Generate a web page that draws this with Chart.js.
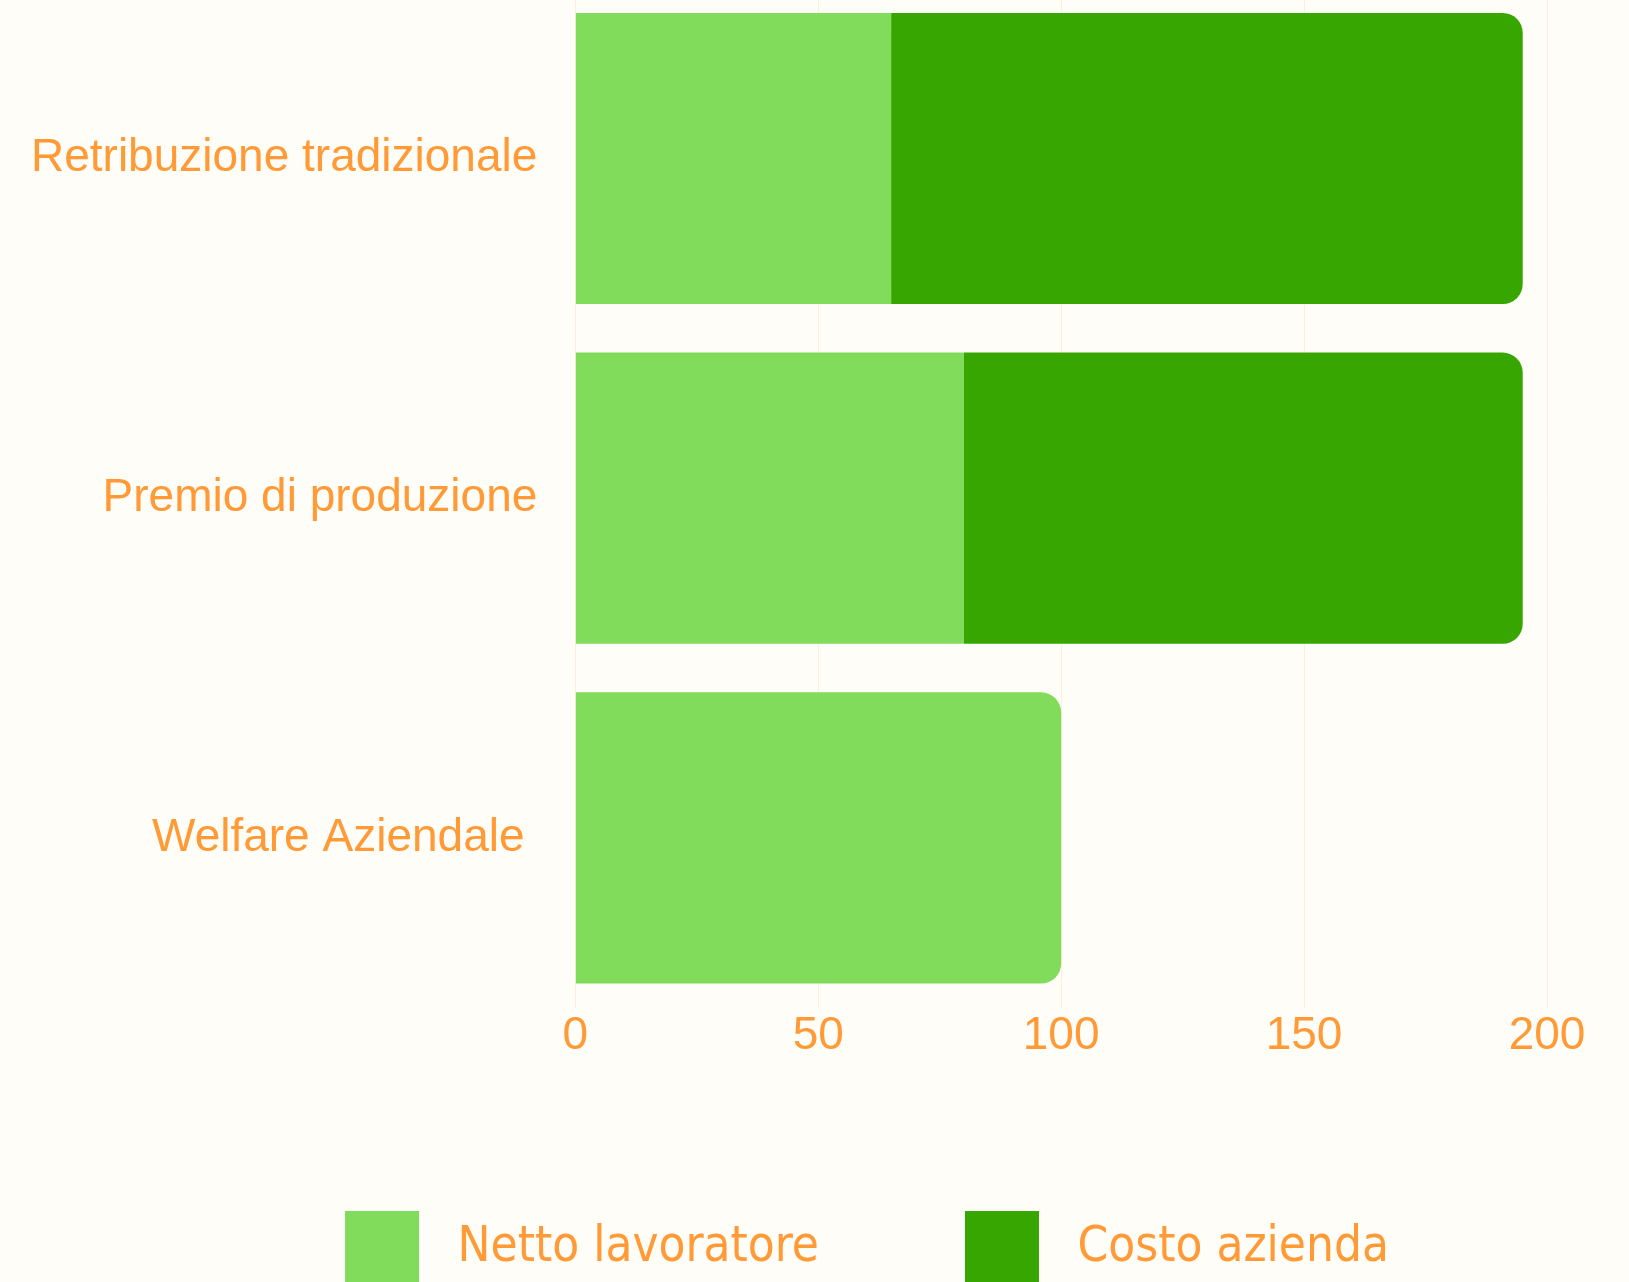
<!DOCTYPE html>
<html lang="it">
<head>
<meta charset="utf-8">
<title>Netto lavoratore / Costo azienda</title>
<script src="https://cdn.jsdelivr.net/npm/chart.js@4.4.1/dist/chart.umd.min.js"></script>
<style>
  html, body {
    margin: 0;
    padding: 0;
    width: 1629px;
    height: 1282px;
    overflow: hidden;
    background: #fefdf8;
  }
  #wrap {
    position: absolute;
    left: 0;
    top: -77px;
    width: 1629px;
    height: 1372px;
  }
</style>
</head>
<body>
<div id="wrap"><canvas id="salaryChart"></canvas></div>
<script>
const categories = ['Retribuzione tradizionale', 'Premio di produzione', 'Welfare Aziendale '];
const nettoLavoratore = [65, 80, 100];
const costoAzienda = [130, 115, null];
const xMin = 0;
const xMax = 200;
const xStep = 50;

const orange = '#ff9a36';
const lightGreen = '#80dc5a';
const darkGreen = '#37a600';

// the legend in the original sits a bit right of the canvas centre
const legendShift = 97;

const shiftLegend = {
  id: 'shiftLegend',
  afterLayout: function (chart) {
    chart.legend.left += legendShift;
    chart.legend.right += legendShift;
  },
};

const ctx = document.getElementById('salaryChart');

const chart = new Chart(ctx, {
  type: 'bar',
  data: {
    labels: categories,
    datasets: [
      {
        label: 'Netto lavoratore',
        data: nettoLavoratore,
        backgroundColor: lightGreen,
        borderWidth: 0,
        // only round the end of the bar when nothing is stacked after it
        borderRadius: function (c) {
          return costoAzienda[c.dataIndex] ? 0 : 20;
        },
      },
      {
        label: 'Costo azienda',
        data: costoAzienda,
        backgroundColor: darkGreen,
        borderWidth: 0,
        borderRadius: 20,
      },
    ],
  },
  plugins: [shiftLegend],
  options: {
    indexAxis: 'y',
    responsive: true,
    maintainAspectRatio: false,
    animation: false,
    datasets: {
      bar: {
        categoryPercentage: 1,
        barPercentage: 0.857,
      },
    },
    layout: {
      padding: { left: -7, right: 82, top: 0, bottom: 0 },
    },
    plugins: {
      tooltip: { enabled: false },
      legend: {
        position: 'bottom',
        labels: {
          color: orange,
          boxWidth: 74,
          boxHeight: 74,
          padding: 146,
          font: {
            family: '"DejaVu Sans Condensed", "Liberation Sans Narrow", "Roboto Condensed", "Liberation Sans", sans-serif',
            size: 49,
          },
          generateLabels: function (ch) {
            const items = Chart.defaults.plugins.legend.labels.generateLabels(ch);
            items.forEach(function (it) {
              it.text = ' ' + it.text;
            });
            return items;
          },
        },
      },
    },
    scales: {
      x: {
        stacked: true,
        min: xMin,
        max: xMax,
        ticks: {
          stepSize: xStep,
          color: orange,
          padding: 1,
          font: { family: '"Liberation Sans", Arial, sans-serif', size: 46 },
        },
        grid: {
          color: 'rgba(255, 153, 51, 0.15)',
          drawTicks: false,
        },
        border: { display: false },
      },
      y: {
        stacked: true,
        ticks: {
          color: orange,
          padding: 38,
          font: { family: '"Liberation Sans", Arial, sans-serif', size: 46 },
        },
        grid: { display: false, drawTicks: false },
        border: { display: false },
      },
    },
  },
});
</script>
</body>
</html>
